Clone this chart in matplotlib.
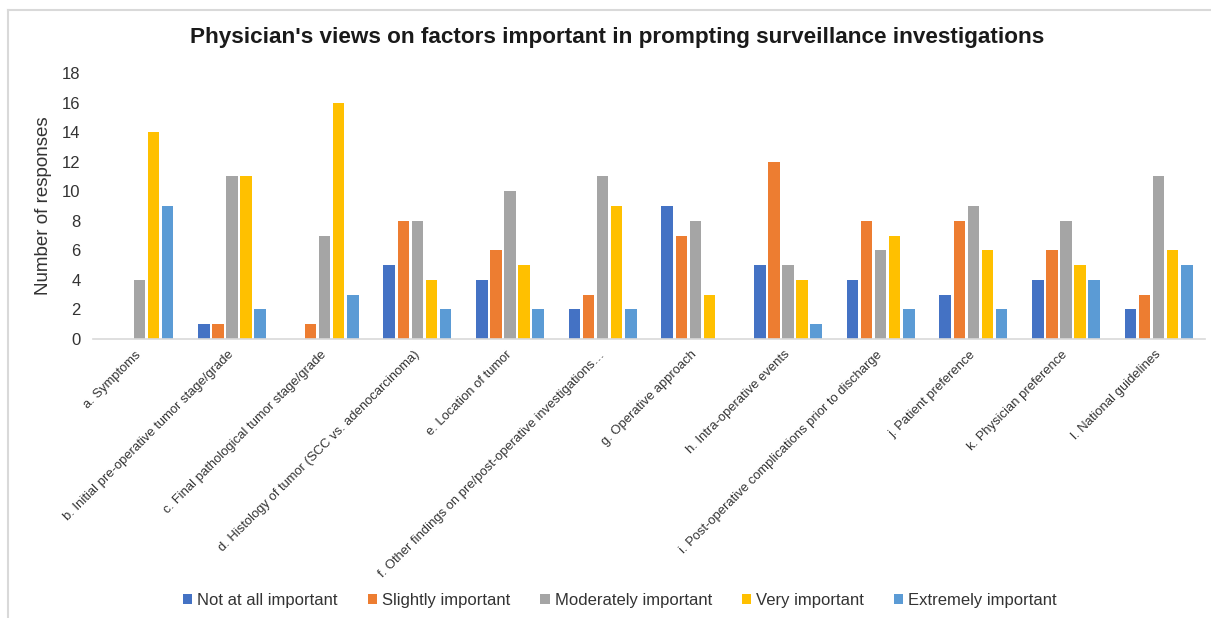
import matplotlib
matplotlib.use("Agg")
import matplotlib.pyplot as plt
import numpy as np
from matplotlib.lines import Line2D

plt.rcParams['font.family'] = ['Liberation Sans', 'DejaVu Sans']

categories = [
    "a. Symptoms",
    "b. Initial pre-operative tumor stage/grade",
    "c. Final pathological tumor stage/grade",
    "d. Histology of tumor (SCC vs. adenocarcinoma)",
    "e. Location of tumor",
    "f. Other findings on pre/post-operative investigations\u2026",
    "g. Operative approach",
    "h. Intra-operative events",
    "i. Post-operative complications prior to discharge",
    "j. Patient preference",
    "k. Physician preference",
    "l. National guidelines",
]
series_names = ["Not at all important", "Slightly important", "Moderately important",
                "Very important", "Extremely important"]
not_at_all = [0, 1, 0, 5, 4, 2, 9, 5, 4, 3, 4, 2]
slightly = [0, 1, 1, 8, 6, 3, 7, 12, 8, 8, 6, 3]
moderately = [4, 11, 7, 8, 10, 11, 8, 5, 6, 9, 8, 11]
very = [14, 11, 16, 4, 5, 9, 3, 4, 7, 6, 5, 6]
extremely = [9, 2, 3, 2, 2, 2, 0, 1, 2, 2, 4, 5]
yticks = [0, 2, 4, 6, 8, 10, 12, 14, 16, 18]

colors = ["#4472C4", "#ED7D31", "#A5A5A5", "#FFC000", "#5B9BD5"]
series = [not_at_all, slightly, moderately, very, extremely]

W, H = 1211, 618
fig = plt.figure(figsize=(W / 100, H / 100), dpi=100)
ax = fig.add_axes([93 / W, 1 - 339 / H, (1205 - 93) / W, (339 - 73) / H])

x = np.arange(len(categories))
step = 0.152
bw = 0.123
for i, (vals, c, name) in enumerate(zip(series, colors, series_names)):
    ax.bar(x + (i - 2) * step, vals, width=bw, color=c, label=name, zorder=2)

ax.set_xlim(-0.5, len(categories) - 0.5)
ax.set_ylim(0, 18)
ax.set_yticks(yticks)
ax.set_yticklabels([str(v) for v in yticks], fontsize=12, color="#333333")
ax.tick_params(axis='y', length=0, pad=9)
ax.set_xticks(x)
ax.set_xticklabels(categories, rotation=45, ha='right', va='center',
                   rotation_mode='anchor', fontsize=9.4, color="#333333")
ax.tick_params(axis='x', length=0, pad=10)
for s in ['top', 'right', 'left']:
    ax.spines[s].set_visible(False)
ax.spines['bottom'].set_color('#d9d9d9')
ax.spines['bottom'].set_linewidth(1.2)

ax.set_ylabel("Number of responses", fontsize=13.5, color="#333333")
ax.yaxis.set_label_coords((52 - 93) / (1205 - 93), 0.5)

fig.text(617 / W, 1 - 38 / H, "Physician's views on factors important in prompting surveillance investigations",
         ha='center', va='center', fontsize=16.2, fontweight='bold', color='#1a1a1a')

fig.legend(loc='center', bbox_to_anchor=(620 / W, 1 - 600 / H), ncol=5, frameon=False,
           fontsize=12, handlelength=0.55, handleheight=0.55, handletextpad=0.3,
           columnspacing=1.8, labelcolor='#333333')

# chart-area border (top and left visible in reference)
fig.add_artist(Line2D([8 / W, 1.0], [1 - 10 / H, 1 - 10 / H], color='#d9d9d9', lw=1.5))
fig.add_artist(Line2D([8 / W, 8 / W], [0, 1 - 10 / H], color='#d9d9d9', lw=1.5))

fig.savefig("out.png", dpi=100, facecolor='white')
